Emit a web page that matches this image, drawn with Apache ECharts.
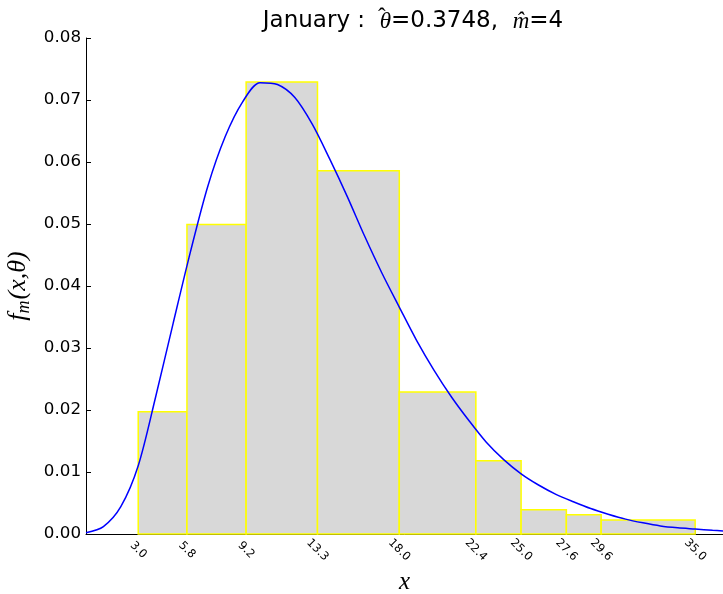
<!DOCTYPE html>
<html>
<head>
<meta charset="utf-8">
<script src="https://cdn.jsdelivr.net/npm/echarts@6/dist/echarts.min.js"></script>
<style>html,body{margin:0;padding:0;background:#fff}#c{width:723px;height:594px}</style>
</head>
<body>
<div id="c"></div>
<script>
// Bin edges (x tick labels) and densities
const binEdges = [3.0, 5.8, 9.2, 13.3, 18.0, 22.4, 25.0, 27.6, 29.6, 35.0];
const binDensity = [0.0197, 0.0499, 0.0729, 0.0586, 0.0229, 0.0118, 0.0039, 0.0031, 0.00226];
// Fitted curve points
const curveX = [0, 1, 2, 3, 4, 5, 6, 7, 8, 9, 10, 11, 12, 13, 14, 15, 16, 17, 18, 19, 20, 21, 22, 23, 24, 25, 26, 27, 28, 29, 30, 31, 32, 33, 34, 35, 36, 36.6];
const curveY = [0.0002, 0.0012, 0.0044, 0.0110, 0.0221, 0.0339, 0.0455, 0.0561, 0.0641, 0.0697, 0.0728, 0.0725, 0.0704, 0.0661, 0.0605, 0.0545, 0.0481, 0.0421, 0.0366, 0.0312, 0.0264, 0.0221, 0.0183, 0.0148, 0.0120, 0.0097, 0.0079, 0.0064, 0.0052, 0.0041, 0.0032, 0.0024, 0.0018, 0.0013, 0.0010, 0.0008, 0.0006, 0.0005];
const yTicks = [0, 0.01, 0.02, 0.03, 0.04, 0.05, 0.06, 0.07, 0.08];

const barData = binDensity.map((d, i) => [binEdges[i], binEdges[i + 1], d]);
const lineData = curveX.map((x, i) => [x, curveY[i]]);

const sans = 'DejaVu Sans';
const serif = 'Liberation Serif';
const tSize = 23;
// measure title pieces to place the hat over theta
const ctx = document.createElement('canvas').getContext('2d');
function w(txt, font) { ctx.font = font; return ctx.measureText(txt).width; }
const fSans = tSize + 'px "' + sans + '"';
const fSer = 'italic ' + tSize + 'px "' + serif + '"';
const p1 = 'January :  ', p3 = '=0.3748,  ', p5 = '=4';
const wTot = w(p1, fSans) + w('θ', fSer) + w(p3, fSans) + w('m̂', fSer) + w(p5, fSans);
const titleCx = 408;
const hatX = titleCx - wTot / 2 + w(p1, fSans) + w('θ', fSer) / 2 + 1.5;

const chart = echarts.init(document.getElementById('c'), null, {renderer: 'canvas'});
chart.setOption({
  animation: false,
  backgroundColor: '#fff',
  title: {
    text: p1 + '{m|θ}' + p3 + '{m|m̂}' + p5,
    left: titleCx, top: 5, textAlign: 'center',
    textStyle: {
      fontFamily: sans, fontSize: tSize, fontWeight: 'normal', color: '#000',
      rich: {
        m: {fontFamily: serif, fontStyle: 'italic', fontSize: tSize, color: '#000'}
      }
    }
  },
  graphic: [{
    type: 'text', x: hatX, y: 6,
    style: {text: 'ˆ', fontFamily: serif, fontSize: tSize, fill: '#000', align: 'center', verticalAlign: 'top'}
  }],
  grid: {left: 86, right: 0, top: 38, bottom: 60, containLabel: false, outerBoundsMode: 'none'},
  xAxis: {
    type: 'value', min: 0, max: 36.6,
    name: 'x', nameLocation: 'middle', nameGap: 36,
    nameTextStyle: {fontFamily: serif, fontStyle: 'italic', fontSize: 25, color: '#000'},
    axisLine: {show: true, lineStyle: {color: '#000', width: 1}},
    axisTick: {show: true, inside: true, length: 4, customValues: binEdges, lineStyle: {color: '#000'}},
    axisLabel: {
      customValues: binEdges, rotate: -45, margin: 16, align: 'center', verticalAlign: 'middle',
      fontFamily: sans, fontSize: 11.5, color: '#000',
      formatter: v => v.toFixed(1)
    },
    splitLine: {show: false}
  },
  yAxis: {
    type: 'value', min: 0, max: 0.08, interval: 0.01,
    name: '{i|f}{s|m}{i|(x,θ)}', nameLocation: 'middle', nameGap: 50, nameRotate: 90,
    nameTextStyle: {
      rich: {
        i: {fontFamily: serif, fontStyle: 'italic', fontSize: 26, color: '#000'},
        s: {fontFamily: serif, fontStyle: 'italic', fontSize: 18, color: '#000', padding: [12, 1, 0, 0]}
      }
    },
    axisLine: {show: true, lineStyle: {color: '#000', width: 1}},
    axisTick: {show: true, inside: true, length: 5, lineStyle: {color: '#000'}},
    axisLabel: {margin: 5, fontFamily: sans, fontSize: 16.7, color: '#000', formatter: v => v.toFixed(2)},
    splitLine: {show: false}
  },
  series: [
    {
      type: 'custom',
      data: barData,
      encode: {x: [0, 1], y: 2},
      z: 1,
      renderItem: function (params, api) {
        const a = api.coord([api.value(0), api.value(2)]);
        const b = api.coord([api.value(1), 0]);
        return {
          type: 'rect',
          shape: {x: a[0], y: a[1], width: b[0] - a[0], height: b[1] - a[1]},
          style: {fill: '#d8d8d8', stroke: '#ffff00', lineWidth: 1.5}
        };
      }
    },
    {
      type: 'line',
      data: lineData,
      smooth: 0.3,
      showSymbol: false,
      z: 3,
      clip: true,
      lineStyle: {color: '#0000ff', width: 1.5}
    }
  ]
});
</script>
</body>
</html>
